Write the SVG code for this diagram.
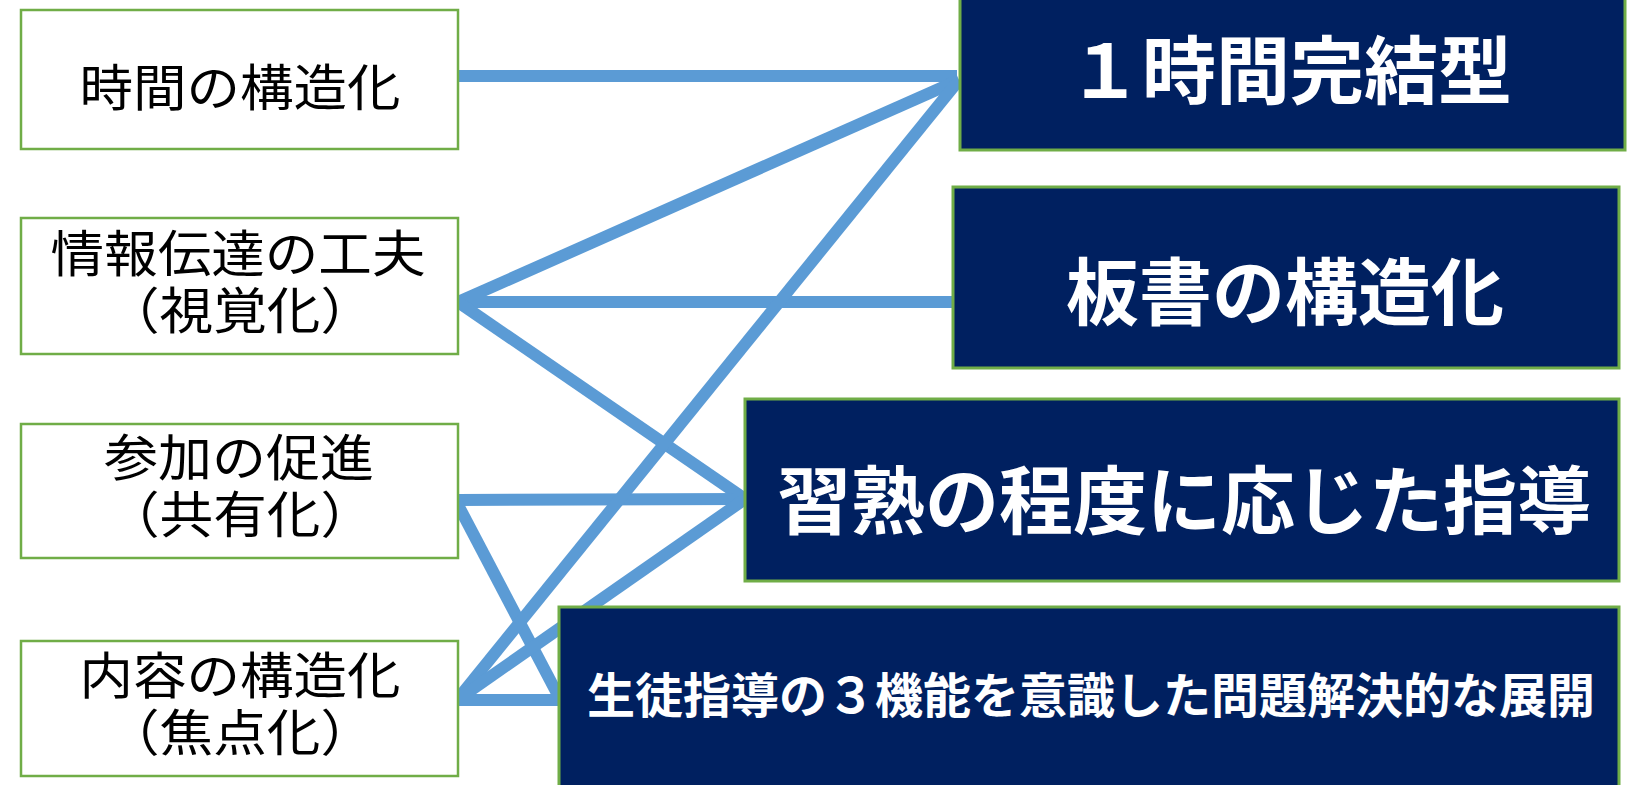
<svg xmlns="http://www.w3.org/2000/svg" width="1640" height="785" viewBox="0 0 1640 785">
<style>
.lbox{fill:#ffffff;stroke:#70AD47;stroke-width:2.5}
.rbox{fill:#002060;stroke:#70AD47;stroke-width:3}
.lt{font-family:"Noto Sans CJK JP","Noto Sans",sans-serif;font-size:50px;fill:#000000;text-anchor:middle}
.rt{font-family:"Noto Sans CJK JP","Noto Sans",sans-serif;font-weight:700;fill:#ffffff;text-anchor:middle}
.con{stroke:#5B9BD5;stroke-width:12;fill:none;stroke-linecap:butt;stroke-linejoin:miter}
</style>
<rect width="1640" height="785" fill="#ffffff"/>
<g id="connectors">
<line class="con" x1="458" y1="76" x2="957" y2="76"/>
<line class="con" x1="458" y1="302" x2="959" y2="80"/>
<line class="con" x1="458" y1="302" x2="953" y2="302"/>
<line class="con" x1="458" y1="302" x2="745" y2="499"/>
<line class="con" x1="458" y1="500" x2="745" y2="499"/>
<line class="con" x1="457" y1="503" x2="560" y2="699"/>
<line class="con" x1="457" y1="700" x2="959" y2="80"/>
<line class="con" x1="457" y1="700" x2="745" y2="499"/>
<line class="con" x1="457" y1="700" x2="560" y2="700"/>
</g>
<g id="node-jikan">
<rect class="lbox" x="21" y="10" width="437" height="139"/>
<text class="lt" x="240" y="106" textLength="321" lengthAdjust="spacingAndGlyphs">時間の構造化</text>
</g>
<g id="node-joho">
<rect class="lbox" x="21" y="218" width="437" height="136"/>
<text class="lt"><tspan x="238" y="272" textLength="375" lengthAdjust="spacingAndGlyphs">情報伝達の工夫</tspan><tspan x="240" y="329" textLength="268" lengthAdjust="spacingAndGlyphs">（視覚化）</tspan></text>
</g>
<g id="node-sanka">
<rect class="lbox" x="21" y="424" width="437" height="134"/>
<text class="lt"><tspan x="239" y="476" textLength="270" lengthAdjust="spacingAndGlyphs">参加の促進</tspan><tspan x="240" y="533" textLength="268" lengthAdjust="spacingAndGlyphs">（共有化）</tspan></text>
</g>
<g id="node-naiyo">
<rect class="lbox" x="21" y="641" width="437" height="135"/>
<text class="lt"><tspan x="240" y="694" textLength="321" lengthAdjust="spacingAndGlyphs">内容の構造化</tspan><tspan x="240" y="751" textLength="268" lengthAdjust="spacingAndGlyphs">（焦点化）</tspan></text>
</g>
<g id="node-kanketsu">
<rect class="rbox" x="960" y="-5" width="665" height="155"/>
<text class="rt" x="1290" y="98" font-size="74">１時間完結型</text>
</g>
<g id="node-bansho">
<rect class="rbox" x="953" y="187" width="666" height="181"/>
<text class="rt" x="1285" y="319" font-size="73">板書の構造化</text>
</g>
<g id="node-shujuku">
<rect class="rbox" x="745" y="399" width="874" height="182"/>
<text class="rt" x="1184" y="528" font-size="74">習熟の程度に応じた指導</text>
</g>
<g id="node-seito">
<rect class="rbox" x="559" y="607" width="1060" height="185"/>
<text class="rt" x="1091" y="713" font-size="48">生徒指導の３機能を意識した問題解決的な展開</text>
</g>
</svg>
